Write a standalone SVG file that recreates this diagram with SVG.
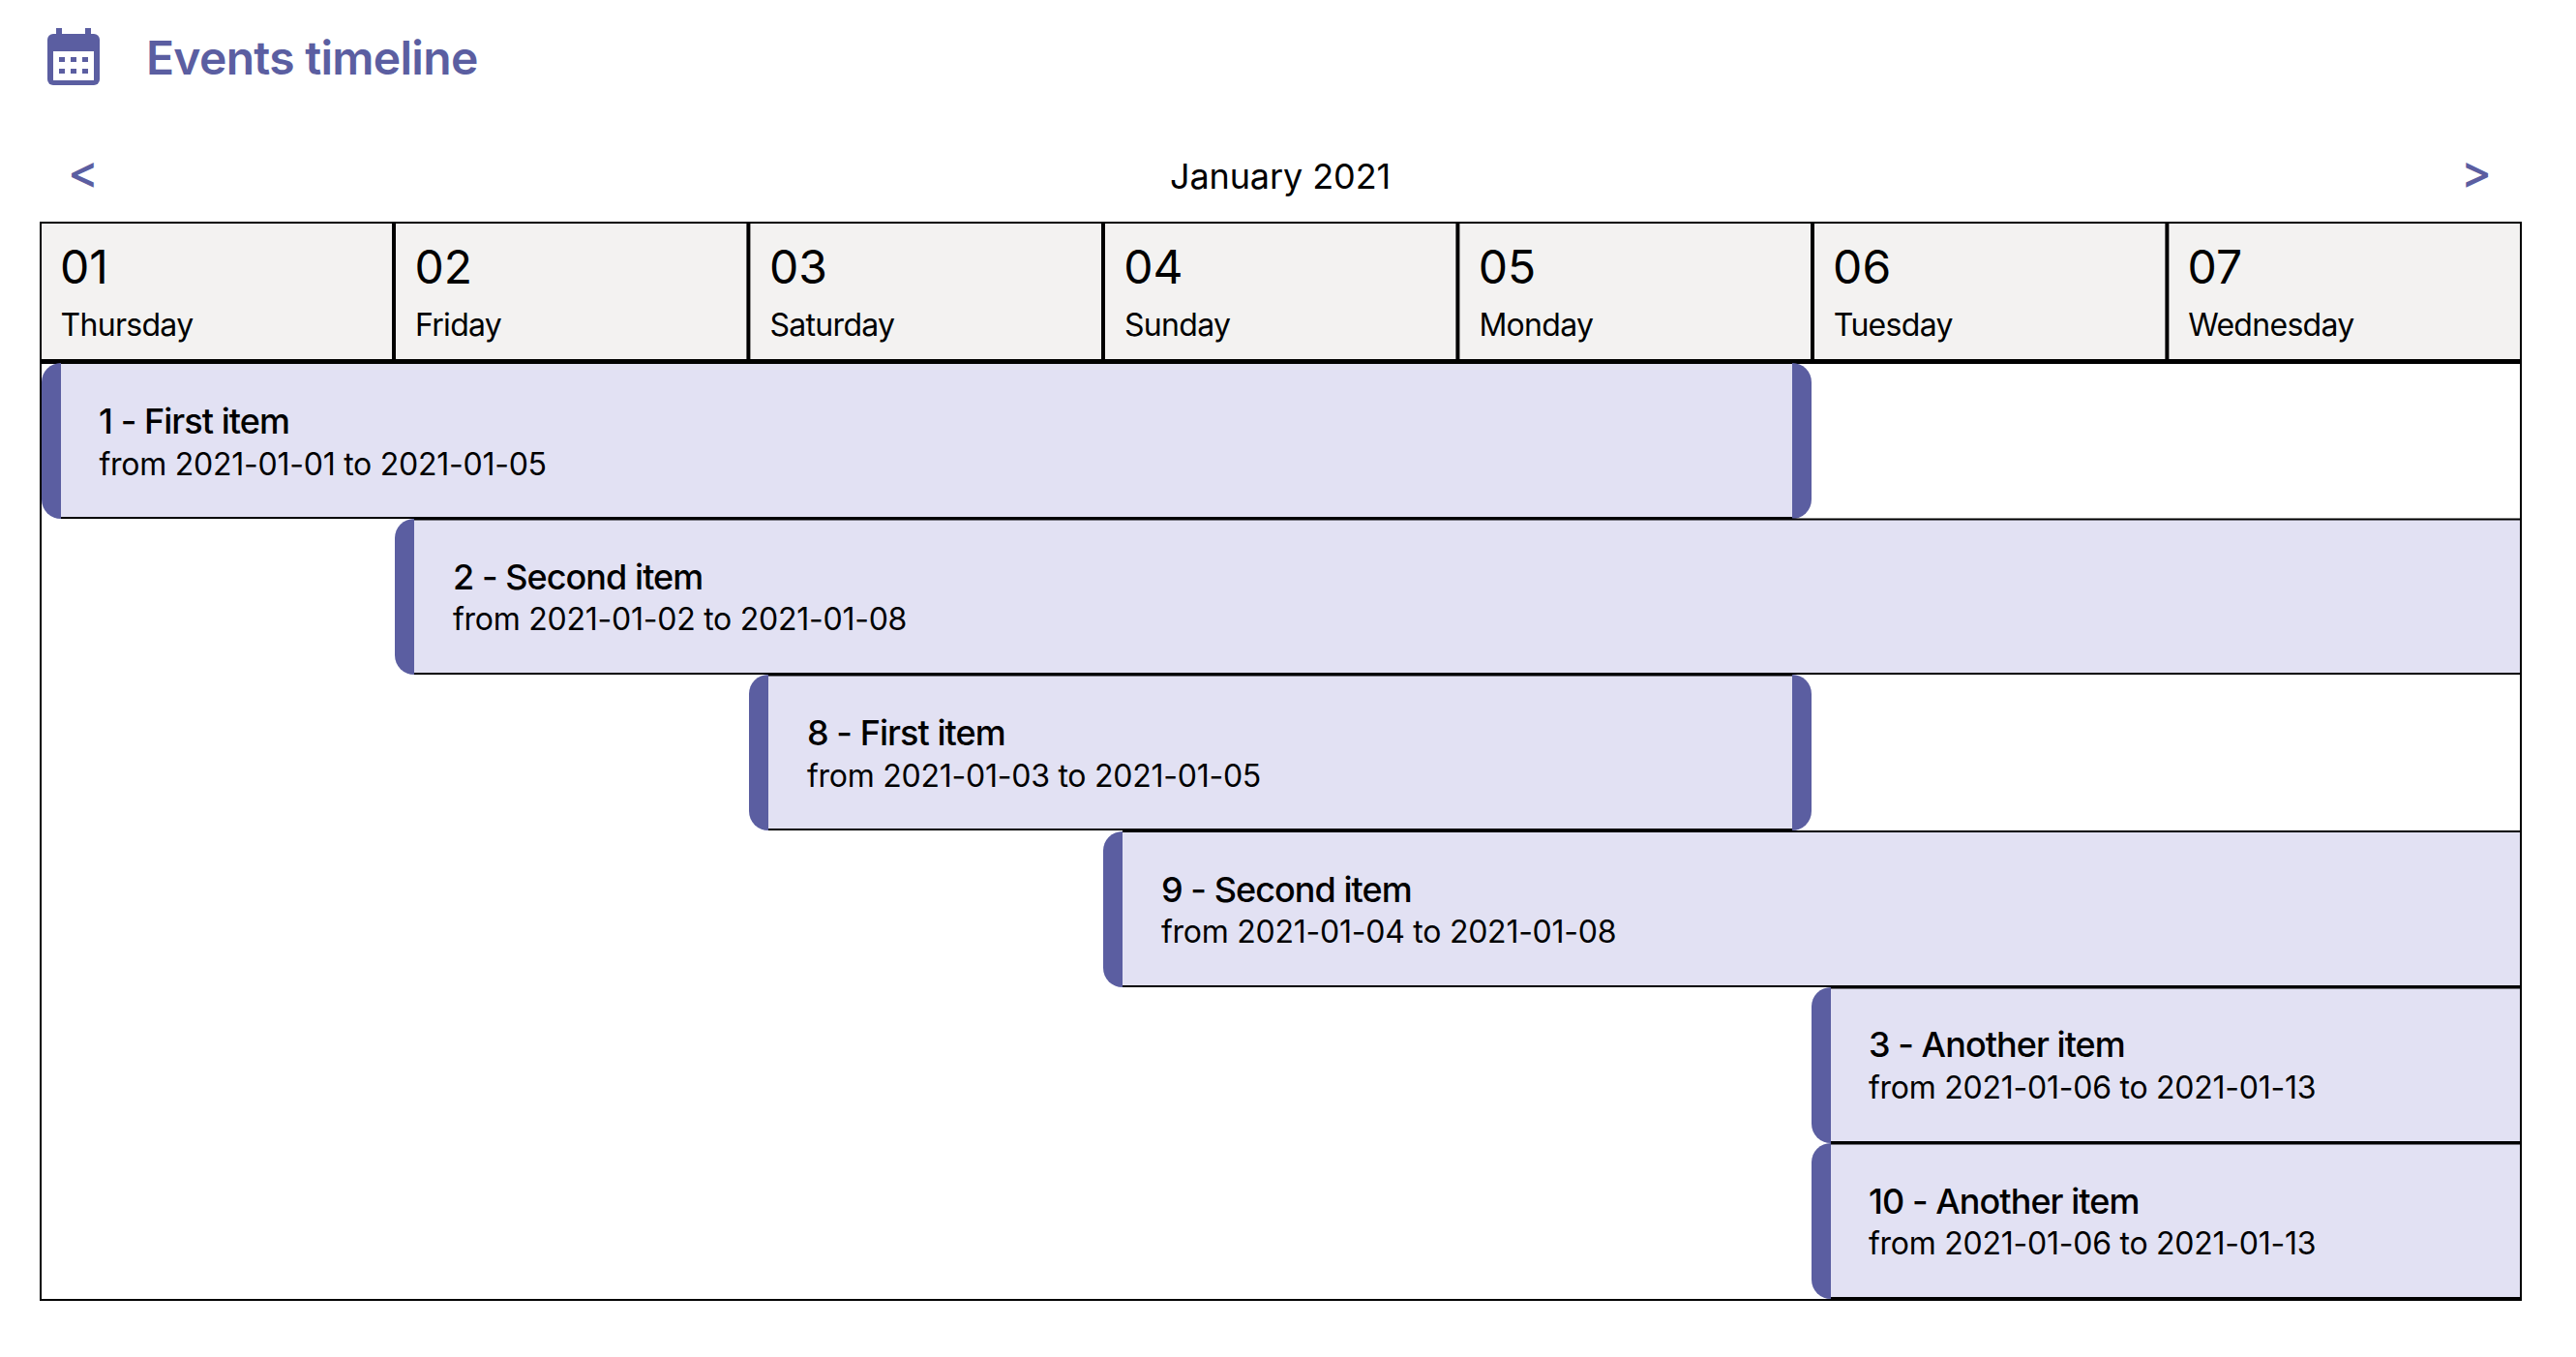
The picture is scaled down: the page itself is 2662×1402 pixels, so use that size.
<svg xmlns="http://www.w3.org/2000/svg" width="2662" height="1402" viewBox="0 0 2662 1402">
<style>
text{font-family:Inter,"Liberation Sans",sans-serif;fill:#000}
.title{font-size:48px;font-weight:600;fill:#5b5ea1;letter-spacing:-.7px}
.nav{font-size:48px;font-weight:500;fill:#5b5ea1}
.month{font-size:36px;letter-spacing:-.1px}
.num{font-size:48px}
.day{font-size:32px;letter-spacing:-.7px}
.it{font-size:36px;font-weight:500;letter-spacing:-.95px}
.dt{font-size:32px;letter-spacing:-.25px}
.cell{fill:#f3f2f1}
.item{fill:#e2e1f3}
.bar{fill:#5b5ea1}
.k{fill:#000}
.ic{fill:#5b5ea1}
</style>
<rect width="2662" height="1402" fill="#fff"/>
<g id="header-icon">
<rect class="ic" x="58" y="29" width="6" height="10"/><rect class="ic" x="88" y="29" width="6" height="10"/>
<rect class="ic" x="49" y="35" width="54" height="53" rx="6"/>
<rect x="55" y="53" width="42" height="30" fill="#fff"/>
<rect class="ic" x="61" y="59" width="6" height="5"/><rect class="ic" x="73" y="59" width="6" height="5"/><rect class="ic" x="85" y="59" width="6" height="5"/>
<rect class="ic" x="61" y="71" width="6" height="5"/><rect class="ic" x="73" y="71" width="6" height="5"/><rect class="ic" x="85" y="71" width="6" height="5"/>
</g>
<text id="title" class="title" x="151" y="77">Events timeline</text>
<text id="prev" class="nav" x="70" y="194">&lt;</text>
<text id="month" class="month" x="1323" y="195" text-anchor="middle">January 2021</text>
<text id="next" class="nav" x="2543" y="194">&gt;</text>
<g id="frame">
<rect class="cell" x="41" y="229" width="2565" height="144"/>
<rect class="k" x="41" y="229" width="2565" height="2"/>
<rect class="k" x="41" y="229" width="2" height="1115"/>
<rect class="k" x="2604" y="229" width="2" height="1115"/>
<rect class="k" x="41" y="1342" width="2565" height="2"/>
<rect class="k" x="41" y="371" width="2565" height="5"/>
<rect class="k" x="405" y="229" width="4" height="144"/>
<rect class="k" x="771.4" y="229" width="4" height="144"/>
<rect class="k" x="1138" y="229" width="4" height="144"/>
<rect class="k" x="1504.4" y="229" width="4" height="144"/>
<rect class="k" x="1871" y="229" width="4" height="144"/>
<rect class="k" x="2237.4" y="229" width="4" height="144"/>
</g>
<g id="day-01"><text class="num" x="62" y="293">01</text><text class="day" x="62.5" y="347">Thursday</text></g>
<g id="day-02"><text class="num" x="428.4" y="293">02</text><text class="day" x="429" y="347">Friday</text></g>
<g id="day-03"><text class="num" x="794.9" y="293">03</text><text class="day" x="795.5" y="347">Saturday</text></g>
<g id="day-04"><text class="num" x="1161.3" y="293">04</text><text class="day" x="1162" y="347">Sunday</text></g>
<g id="day-05"><text class="num" x="1527.7" y="293">05</text><text class="day" x="1528.4" y="347">Monday</text></g>
<g id="day-06"><text class="num" x="1894.1" y="293">06</text><text class="day" x="1894.8" y="347">Tuesday</text></g>
<g id="day-07"><text class="num" x="2260.6" y="293">07</text><text class="day" x="2261.2" y="347">Wednesday</text></g>
<g id="item-1">
<rect class="item" x="63" y="376" width="1789" height="158"/>
<rect class="k" x="63" y="534" width="1789" height="2"/>
<path class="bar" d="M63 375A20 20 0 0 0 43 395V516A20 20 0 0 0 63 536Z"/>
<path class="bar" d="M1852 375A20 20 0 0 1 1872 395V516A20 20 0 0 1 1852 536Z"/>
<text class="it" x="102" y="448">1 - First item</text><text class="dt" x="102.5" y="491">from 2021-01-01 to 2021-01-05</text>
</g>
<g id="item-2">
<rect class="item" x="428" y="536" width="2176" height="161"/>
<rect class="k" x="428" y="535.5" width="2176" height="2"/><rect class="k" x="428" y="695" width="2176" height="2"/>
<path class="bar" d="M428 536A20 20 0 0 0 408 556V677A20 20 0 0 0 428 697Z"/>
<text class="it" x="468" y="609">2 - Second item</text><text class="dt" x="468" y="651">from 2021-01-02 to 2021-01-08</text>
</g>
<g id="item-8">
<rect class="item" x="794" y="697" width="1058" height="161"/>
<rect class="k" x="794" y="696.5" width="1058" height="2"/><rect class="k" x="794" y="856" width="1058" height="2"/>
<path class="bar" d="M794 697A20 20 0 0 0 774 717V838A20 20 0 0 0 794 858Z"/>
<path class="bar" d="M1852 697A20 20 0 0 1 1872 717V838A20 20 0 0 1 1852 858Z"/>
<text class="it" x="834" y="770">8 - First item</text><text class="dt" x="834" y="813">from 2021-01-03 to 2021-01-05</text>
</g>
<g id="item-9">
<rect class="item" x="1160" y="859" width="1444" height="161"/>
<rect class="k" x="1160" y="858" width="1444" height="2"/><rect class="k" x="1160" y="1018" width="1444" height="2"/>
<path class="bar" d="M1160 859A20 20 0 0 0 1140 879V1000A20 20 0 0 0 1160 1020Z"/>
<text class="it" x="1200" y="932">9 - Second item</text><text class="dt" x="1200" y="974">from 2021-01-04 to 2021-01-08</text>
</g>
<g id="item-3">
<rect class="item" x="1892" y="1020" width="712" height="161"/>
<rect class="k" x="1892" y="1019.5" width="712" height="2"/><rect class="k" x="1892" y="1179" width="712" height="2"/>
<path class="bar" d="M1892 1020A20 20 0 0 0 1872 1040V1161A20 20 0 0 0 1892 1181Z"/>
<text class="it" x="1931" y="1092">3 - Another item</text><text class="dt" x="1931" y="1135">from 2021-01-06 to 2021-01-13</text>
</g>
<g id="item-10">
<rect class="item" x="1892" y="1181" width="712" height="161"/>
<rect class="k" x="1892" y="1180.5" width="712" height="2"/><rect class="k" x="1892" y="1340" width="712" height="2"/>
<path class="bar" d="M1892 1181A20 20 0 0 0 1872 1201V1322A20 20 0 0 0 1892 1342Z"/>
<text class="it" x="1931" y="1254">10 - Another item</text><text class="dt" x="1931" y="1296">from 2021-01-06 to 2021-01-13</text>
</g>
<g id="connectors"></g>
</svg>
